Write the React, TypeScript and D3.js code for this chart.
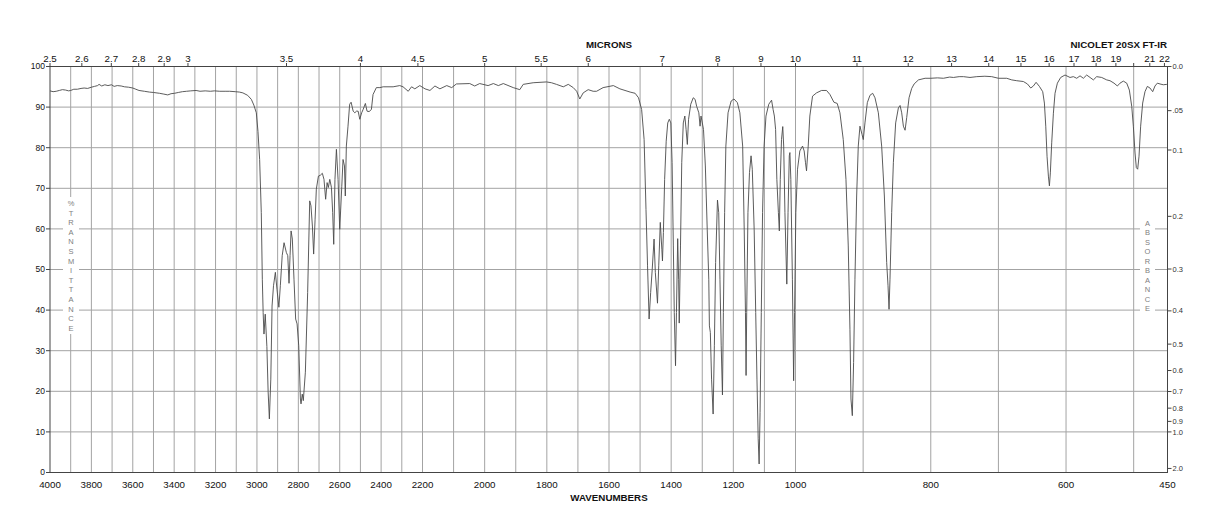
import React from "react";
import * as d3 from "d3";

const wavenumbers = [
  4000, 3985, 3970, 3955, 3940, 3925, 3910, 3900, 3885, 3868, 3850, 3835, 3818, 3800, 3785, 3770, 3763, 3750, 3735, 3720,
  3703, 3690, 3675, 3656, 3640, 3620, 3600, 3585, 3570, 3544, 3520, 3500, 3471, 3450, 3431, 3415, 3398, 3380, 3360, 3340,
  3320, 3294, 3275, 3250, 3225, 3205, 3180, 3150, 3132, 3105, 3085, 3068, 3045, 3027, 3015, 3003, 2995, 2987, 2979, 2974,
  2970, 2966, 2960, 2952, 2946, 2940, 2933, 2927, 2920, 2911, 2903, 2894, 2887, 2878, 2869, 2858, 2851, 2845, 2840, 2835,
  2829, 2821, 2813, 2806, 2798, 2790, 2787, 2781, 2776, 2766, 2755, 2745, 2739, 2732, 2726, 2719, 2713, 2703, 2694, 2684,
  2676, 2668, 2661, 2655, 2648, 2640, 2634, 2629, 2623, 2616, 2608, 2600, 2590, 2584, 2577, 2573, 2568, 2560, 2552, 2545,
  2535, 2527, 2519, 2511, 2503, 2494, 2487, 2476, 2468, 2458, 2447, 2439, 2423, 2406, 2390, 2342, 2310, 2294, 2269, 2253,
  2237, 2213, 2192, 2176, 2160, 2144, 2122, 2106, 2091, 2048, 2032, 2016, 1989, 1972, 1956, 1940, 1908, 1887, 1876, 1844,
  1801, 1785, 1769, 1747, 1731, 1715, 1704, 1694, 1683, 1667, 1651, 1640, 1619, 1586, 1565, 1532, 1516, 1505, 1495, 1487,
  1481, 1476, 1471, 1466, 1461, 1455, 1451, 1444, 1440, 1435, 1430, 1428, 1425, 1421, 1416, 1411, 1406, 1401, 1397, 1393,
  1390, 1386, 1383, 1379, 1376, 1374, 1370, 1366, 1361, 1356, 1352, 1348, 1344, 1337, 1329, 1323, 1318, 1311, 1307, 1304,
  1301, 1296, 1290, 1284, 1279, 1277, 1274, 1270, 1265, 1261, 1257, 1251, 1247, 1243, 1239, 1235, 1232, 1228, 1224, 1217,
  1207, 1198, 1187, 1179, 1170, 1165, 1161, 1159, 1157, 1153, 1148, 1143, 1139, 1133, 1128, 1124, 1120, 1117, 1114, 1110,
  1106, 1101, 1095, 1086, 1077, 1072, 1068, 1064, 1060, 1055, 1052, 1049, 1045, 1041, 1038, 1034, 1028, 1024, 1020, 1018,
  1015, 1010, 1006, 1003, 999.5, 997, 993.6, 989.6, 987.2, 985.2, 983.7, 981.2, 978.8, 974.8, 968.9, 961.5, 954.1, 949.1, 943.2, 938.3,
  934.3, 929.4, 925.4, 922, 919.5, 918, 916, 914.1, 912.1, 909.6, 907.2, 904.7, 901.7, 899.8, 897.3, 893.8, 889.9, 885.9, 882.5, 877.5,
  872.6, 868.6, 865.2, 863.2, 861.7, 860.3, 857.8, 855.3, 851.9, 847.9, 845.4, 843, 840.5, 838, 835.6, 832.1, 828.2, 824.6, 818.2, 808.4,
  800, 790, 781.3, 772, 766.5, 758, 751.7, 742, 732, 720, 709.9, 700, 687.7, 680.3, 672.9, 663.1, 657.1, 652.2, 648.3, 644.3,
  639.4, 634.5, 632, 630, 628.1, 626.1, 624.6, 623.2, 621.2, 618.7, 616.3, 612.8, 607.9, 601.5, 594.1, 589.2, 584.2, 579.3, 574.4, 569.5,
  564.5, 559.6, 554.7, 547.3, 539.9, 535, 529.1, 524.1, 520.2, 515.3, 510.3, 506.4, 502.9, 500.5, 498, 496.1, 494.1, 492.1, 489.7, 486.7,
  483.3, 479.8, 475.9, 471.9, 468.5, 465, 461.1, 456.2, 451.2, 450,
];

const transmittance = [
  94.0, 93.8, 93.9, 94.1, 94.3, 94.2, 94.0, 94.1, 94.4, 94.4, 94.6, 94.7, 94.6, 94.9, 95.1, 95.3, 95.6, 95.2, 95.5, 95.3,
  95.5, 95.1, 95.3, 95.2, 95.0, 94.9, 94.7, 94.4, 94.1, 93.9, 93.7, 93.6, 93.4, 93.2, 93.0, 93.3, 93.4, 93.6, 93.8, 93.9,
  94.0, 94.1, 93.9, 94.0, 93.9, 94.0, 93.9, 93.9, 93.9, 93.8, 93.7, 93.5, 92.9, 91.9, 90.5, 88.6, 84.0, 77.1, 64.0, 47.6,
  39.4, 34.1, 39.0, 31.0, 20.0, 13.2, 23.0, 41.0, 46.0, 49.3, 45.0, 40.7, 46.0, 53.4, 56.6, 54.2, 53.4, 46.6, 53.4, 59.5,
  57.5, 47.6, 37.8, 36.6, 31.2, 18.1, 16.9, 19.3, 17.7, 24.7, 44.3, 66.9, 65.7, 60.7, 53.8, 62.4, 69.8, 73.0, 73.2, 73.7,
  72.2, 67.3, 71.4, 70.2, 72.2, 70.2, 64.0, 56.2, 72.2, 79.6, 72.2, 59.9, 70.5, 77.1, 75.5, 68.1, 80.4, 85.3, 90.7, 91.2,
  89.0, 88.6, 89.0, 89.0, 87.0, 88.6, 89.4, 90.9, 89.0, 88.9, 89.4, 93.1, 94.8, 94.8, 95.0, 95.0, 95.3, 95.0, 93.9, 95.0,
  94.5, 95.3, 94.5, 94.1, 95.2, 94.5, 95.3, 94.8, 95.7, 95.8, 95.2, 95.8, 95.3, 95.8, 95.3, 95.8, 94.8, 94.3, 95.6, 96.0,
  96.2, 96.0, 95.6, 95.0, 95.6, 94.8, 93.9, 92.0, 93.5, 94.3, 93.9, 93.9, 94.8, 95.3, 94.5, 93.7, 93.4, 92.3, 89.4, 82.0,
  64.8, 50.9, 37.8, 44.3, 50.0, 57.5, 49.3, 41.7, 50.9, 61.6, 55.0, 52.1, 59.1, 72.2, 81.6, 86.1, 87.0, 86.1, 76.3, 55.8,
  39.4, 26.3, 39.4, 57.6, 47.6, 36.8, 55.8, 76.3, 86.1, 87.8, 84.5, 80.8, 87.0, 90.7, 92.3, 91.9, 90.2, 88.6, 85.3, 87.8,
  86.6, 84.5, 75.5, 59.9, 47.6, 36.1, 34.5, 23.0, 14.4, 31.2, 51.7, 67.1, 64.0, 47.6, 31.2, 19.1, 39.4, 64.0, 80.4, 88.6,
  91.5, 92.0, 91.1, 88.6, 80.4, 59.9, 39.4, 23.9, 39.4, 64.0, 73.9, 78.0, 74.7, 59.9, 39.4, 23.0, 8.3, 2.1, 14.8, 39.4,
  64.0, 80.4, 87.8, 90.7, 91.7, 89.4, 87.8, 84.5, 72.2, 64.0, 59.5, 72.2, 82.0, 85.2, 80.4, 64.0, 46.4, 64.0, 78.0, 78.8,
  72.2, 47.6, 22.6, 39.4, 64.0, 74.7, 79.2, 80.4, 79.2, 76.3, 74.3, 80.4, 87.8, 92.7, 93.5, 94.1, 94.1, 93.1, 91.2, 90.9,
  88.6, 82.0, 72.2, 55.8, 35.3, 18.1, 14.0, 27.1, 47.6, 68.1, 80.4, 85.3, 83.3, 82.0, 86.1, 91.1, 92.9, 93.4, 92.3, 88.6,
  80.4, 68.1, 51.7, 46.0, 40.2, 47.6, 64.0, 76.3, 86.1, 89.8, 90.4, 88.6, 85.3, 84.3, 87.4, 92.3, 94.6, 95.7, 96.7, 97.1,
  97.1, 97.2, 97.1, 97.4, 97.3, 97.5, 97.5, 97.3, 97.5, 97.6, 97.5, 97.1, 97.1, 96.7, 96.5, 96.3, 95.7, 94.7, 95.2, 96.1,
  95.1, 93.8, 91.0, 85.3, 77.9, 73.0, 70.6, 73.8, 81.2, 88.5, 93.4, 95.9, 97.3, 97.9, 97.3, 97.5, 97.1, 97.7, 97.1, 97.9,
  97.3, 96.7, 97.5, 97.3, 96.7, 96.5, 95.9, 95.2, 95.9, 96.4, 95.9, 94.2, 90.2, 85.3, 78.7, 75.1, 74.7, 77.9, 85.3, 91.0,
  93.8, 95.1, 94.7, 93.8, 95.2, 95.9, 95.7, 95.5, 95.6, 95.7,
];

const wavenumberTicks = [4000, 3800, 3600, 3400, 3200, 3000, 2800, 2600, 2400, 2200, 2000, 1800, 1600, 1400, 1200, 1000, 800, 600, 450];
const micronTicks = [2.5, 2.6, 2.7, 2.8, 2.9, 3, 3.5, 4, 4.5, 5, 5.5, 6, 7, 8, 9, 10, 11, 12, 13, 14, 15, 16, 17, 18, 19, 20, 21, 22];
const micronLabels = ["2.5", "2.6", "2.7", "2.8", "2.9", "3", "3.5", "4", "4.5", "5", "5.5", "6", "7", "8", "9", "10", "11", "12", "13", "14", "15", "16", "17", "18", "19", "", "21", "22"];
const transmittanceTicks = [0, 10, 20, 30, 40, 50, 60, 70, 80, 90, 100];
const absorbanceTicks = [0, 0.05, 0.1, 0.2, 0.3, 0.4, 0.5, 0.6, 0.7, 0.8, 0.9, 1.0, 2.0];
const absorbanceLabels = ["0.0", ".05", "0.1", "0.2", "0.3", "0.4", "0.5", "0.6", "0.7", "0.8", "0.9", "1.0", "2.0"];
const leftTitle = "%TRANSMITTANCE";
const rightTitle = "ABSORBANCE";

const FONT = "'Liberation Sans', Arial, Helvetica, sans-serif";

export default function App() {
  const W = 1218;
  const H = 528;
  const L = 50;
  const R = 1167.5;
  const TOP = 66.5;
  const BOT = 472.5;
  const x = d3.scaleLinear().domain([4000, 2200, 1000, 450]).range([L, 422.5, 795.5, R]);
  const y = d3.scaleLinear().domain([0, 100]).range([BOT, TOP]);
  const pts: [number, number][] = wavenumbers.map((w, i) => [w, transmittance[i]]);
  const line = d3.line<[number, number]>().x((d) => x(d[0])).y((d) => y(d[1]));
  const vGrid = d3.range(3900, 450, -100);
  const hGrid = d3.range(10, 100, 10);
  const gridColor = "#a3a3a3";

  return (
    <svg width={W} height={H} style={{ position: "absolute", left: 0, top: 0, background: "#fff" }} fontFamily={FONT}>
      <rect x={0} y={0} width={W} height={H} fill="#fff" />
      {vGrid.map((w) => (
        <line key={"v" + w} x1={x(w)} x2={x(w)} y1={TOP} y2={BOT} stroke={gridColor} strokeWidth={1} />
      ))}
      {hGrid.map((t) => (
        <line key={"h" + t} x1={L} x2={R} y1={y(t)} y2={y(t)} stroke={gridColor} strokeWidth={1} />
      ))}
      {/* vertical titles with white backing */}
      <rect x={63} y={197} width={16} height={137} fill="#fff" />
      {leftTitle.split("").map((c, i) => (
        <text key={"lt" + i} x={71} y={203.3 + i * 9.6} dy="0.35em" textAnchor="middle" fontSize={7.5} fill="#808080">
          {c}
        </text>
      ))}
      <rect x={1140} y={217} width={15} height={97} fill="#fff" />
      {rightTitle.split("").map((c, i) => (
        <text key={"rt" + i} x={1147.5} y={223.3 + i * 9.45} dy="0.35em" textAnchor="middle" fontSize={7.5} fill="#808080">
          {c}
        </text>
      ))}
      {/* spectrum */}
      <path d={line(pts) || ""} fill="none" stroke="#4a4a4a" strokeWidth={0.9} strokeLinejoin="round" />
      {/* frame */}
      <rect x={L} y={TOP} width={R - L} height={BOT - TOP} fill="none" stroke="#444" strokeWidth={1} />
      {/* bottom labels */}
      {wavenumberTicks.map((w) => (
        <text key={"b" + w} x={x(w)} y={488} textAnchor="middle" fontSize={9.75} fill="#111">
          {w}
        </text>
      ))}
      <text x={609} y={501} textAnchor="middle" fontSize={9.75} fontWeight="bold" fill="#111">
        WAVENUMBERS
      </text>
      {/* top micron axis */}
      {micronTicks.map((m, i) => (
        <g key={"m" + m}>
          <line x1={x(10000 / m)} x2={x(10000 / m)} y1={TOP} y2={TOP - 3.5} stroke="#444" strokeWidth={1} />
          <text x={x(10000 / m)} y={62} textAnchor="middle" fontSize={9.75} fill="#111">
            {micronLabels[i]}
          </text>
        </g>
      ))}
      <text x={609} y={48} textAnchor="middle" fontSize={9.75} fontWeight="bold" fill="#111">
        MICRONS
      </text>
      <text x={1167} y={48} textAnchor="end" fontSize={9.75} fontWeight="bold" fill="#111">
        NICOLET 20SX FT-IR
      </text>
      {/* left axis */}
      {transmittanceTicks.map((t) => (
        <g key={"l" + t}>
          <line x1={L - 4} x2={L} y1={y(t)} y2={y(t)} stroke="#444" strokeWidth={1} />
          <text x={45} y={y(t)} dy="0.35em" textAnchor="end" fontSize={8.5} fill="#111">
            {t}
          </text>
        </g>
      ))}
      {/* right absorbance axis */}
      {absorbanceTicks.map((a, i) => {
        const yy = y(100 * Math.pow(10, -a));
        return (
          <g key={"r" + i}>
            <line x1={R} x2={R + 4} y1={yy} y2={yy} stroke="#444" strokeWidth={1} />
            <text x={R + 5} y={yy} dy="0.35em" textAnchor="start" fontSize={7.5} fill="#333">
              {absorbanceLabels[i]}
            </text>
          </g>
        );
      })}
    </svg>
  );
}
